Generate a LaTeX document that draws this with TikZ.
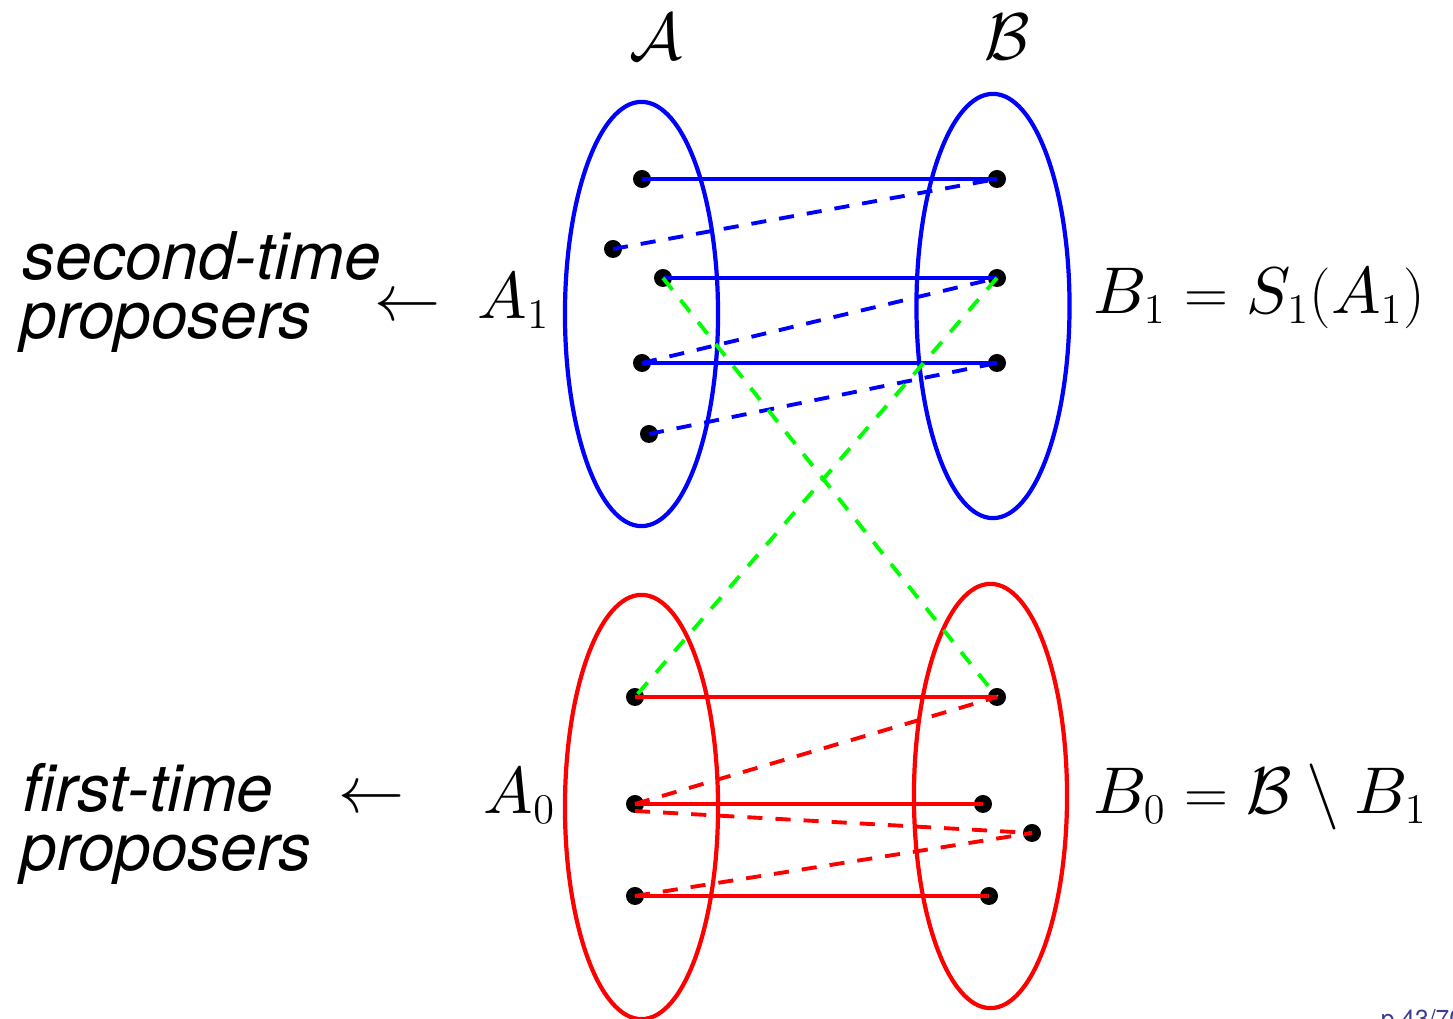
\documentclass[tikz,border=0pt]{standalone}
\usepackage{amsmath,amssymb}
\usepackage{fontspec}
\newfontfamily\heros{TeX Gyre Heros}
\DeclareFontShape{OML}{cmm}{m}{it}{<-6>cmmi5 <6-8.5>cmmi7 <8.5->cmmi10}{}
\DeclareFontShape{OMS}{cmsy}{m}{n}{<-6>cmsy5 <6-8.5>cmsy7 <8.5->cmsy10}{}
\usetikzlibrary{arrows.meta,shapes.geometric}
\definecolor{footblue}{rgb}{0.23,0.23,0.6}
\tikzset{
  setellipse/.style={draw,ellipse,minimum width=1.53cm,minimum height=4.24cm,inner sep=0pt,line width=1.2pt},
  agent/.style={circle,fill=black,minimum size=0.18cm,inner sep=0pt},
  matched/.style={line width=1.1pt},
  proposal/.style={line width=1.1pt,dash pattern=on 4.3pt off 3.7pt},
  lbl/.style={inner sep=0pt,anchor=base west,font=\fontsize{18.8}{22}\selectfont},
  side/.style={inner sep=0pt,anchor=base west,font=\fontsize{18.7}{22}\selectfont\heros\itshape}
}

\begin{document}
\begin{tikzpicture}[x=0.01cm,y=-0.01cm]
  \useasboundingbox (0,0) rectangle (1453,1019);
  % the four sets
  \node[setellipse,blue] (A1) at (641.5,314) {};
  \node[setellipse,blue] (B1) at (993,306) {};
  \node[setellipse,red] (A0) at (641.5,807) {};
  \node[setellipse,red] (B0) at (990.5,796) {};

  % agents
  \node[agent] (a1) at (642,179) {};
  \node[agent] (a2) at (613,249) {};
  \node[agent] (a3) at (663,278) {};
  \node[agent] (a4) at (642,363) {};
  \node[agent] (a5) at (649,434) {};
  \node[agent] (b1) at (997,179) {};
  \node[agent] (b2) at (997,278) {};
  \node[agent] (b3) at (997,363) {};
  \node[agent] (c1) at (635,697) {};
  \node[agent] (c2) at (635,804) {};
  \node[agent] (c3) at (635,896) {};
  \node[agent] (d1) at (997,697) {};
  \node[agent] (d2) at (983,804) {};
  \node[agent] (d3) at (1032,833) {};
  \node[agent] (d4) at (989,896) {};

  % upper pairs
  \draw[matched,blue] (a1.center) -- (b1.center);
  \draw[matched,blue] (a3.center) -- (b2.center);
  \draw[matched,blue] (a4.center) -- (b3.center);
  \draw[proposal,blue] (a2.center) -- (b1.center);
  \draw[proposal,blue] (a4.center) -- (b2.center);
  \draw[proposal,blue] (a5.center) -- (b3.center);
  % crossing proposals
  \draw[proposal,green] (a3.center) -- (d1.center);
  \draw[proposal,green] (b2.center) -- (c1.center);
  % lower pairs
  \draw[matched,red] (c1.center) -- (d1.center);
  \draw[matched,red] (c2.center) -- (d2.center);
  \draw[matched,red] (c3.center) -- (d4.center);
  \draw[proposal,red] (c2.center) -- (d1.center);
  \draw[proposal,red] ([yshift=-0.07cm]c2.center) -- (d3.center);
  \draw[proposal,red] (c3.center) -- (d3.center);

  % labels
  \node[lbl] (calA) at (629,60) {$\mathcal{A}$};
  \node[lbl] (calB) at (984,60) {$\mathcal{B}$};
  \node[lbl] (lA1) at (477,319) {$A_1$};
  \node[lbl] (arr1) at (374,321) {$\leftarrow$};
  \node[side] (st1) at (22,280) {second-time};
  \node[side] (st2) at (20,339) {proposers};
  \node[lbl] (lB1) at (1093,314) {$B_1 = S_1(A_1)$};
  \node[lbl] (lA0) at (483,814) {$A_0$};
  \node[lbl] (arr0) at (338,813) {$\leftarrow$};
  \node[side] (ft1) at (22,812) {first-time};
  \node[side] (ft2) at (20,871) {proposers};
  \node[lbl] (lB0) at (1093,814) {$B_0 = \mathcal{B}\setminus B_1$};
  \node[inner sep=0pt,anchor=base west,font=\fontsize{7}{8}\selectfont\heros,text=footblue] (foot) at (1357,1028) {-- p.43/70};
\end{tikzpicture}
\end{document}
